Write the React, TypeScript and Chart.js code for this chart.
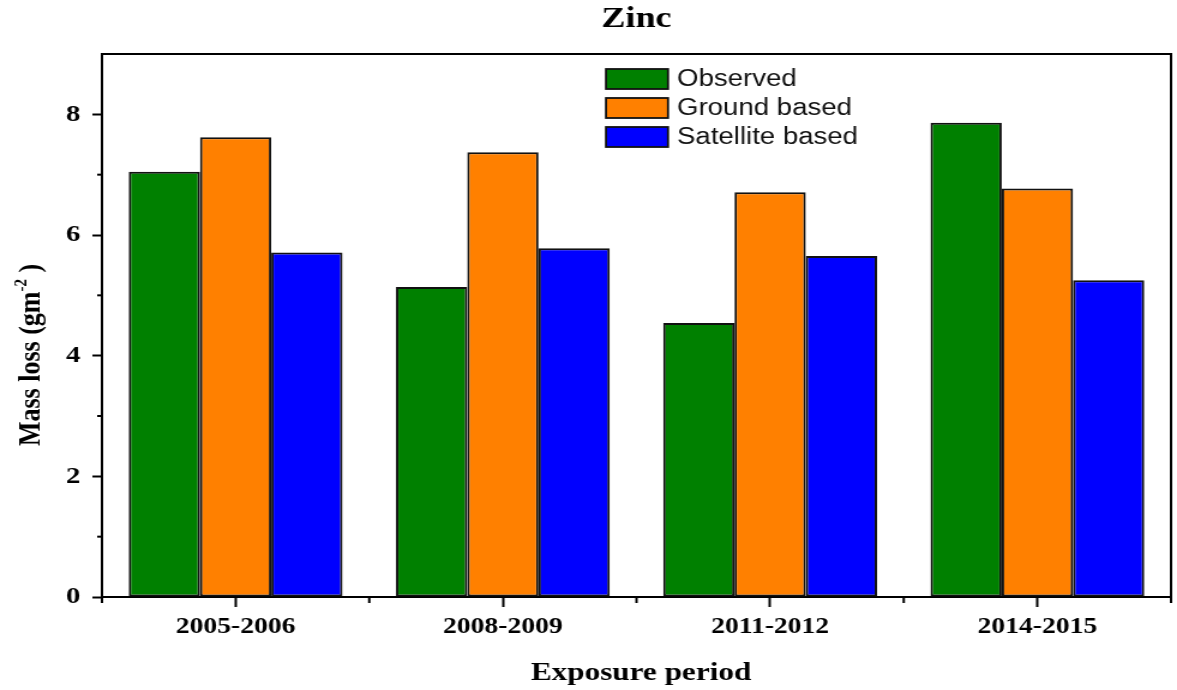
import React, { useEffect, useRef } from 'react';
import { Chart, registerables } from 'chart.js';

Chart.register(...registerables);

// ---- data ----
const CATEGORIES = ['2005-2006', '2008-2009', '2011-2012', '2014-2015'];
const OBSERVED = [7.05, 5.14, 4.54, 7.86];
const GROUND_BASED = [7.62, 7.37, 6.71, 6.77];
const SATELLITE_BASED = [5.71, 5.78, 5.65, 5.25];
const SERIES_NAMES = ['Observed', 'Ground based', 'Satellite based'];
const Y_MAJOR_TICKS = [0, 2, 4, 6, 8];
const Y_MINOR_TICKS = [1, 3, 5, 7];
const Y_MAX = 9;
const TITLE = 'Zinc';
const X_TITLE = 'Exposure period';

// ---- styles ----
const COLORS = ['#008000', '#FF8000', '#0000FF'];
const W = 1177;
const H = 690;
const CW = 981; // internal canvas width, stretched horizontally to W
const K = W / CW;
const ix = (refX: number) => refX / K;
const SERIF = '"Liberation Serif", "Times New Roman", serif';
const SANS = '"Liberation Sans", Arial, sans-serif';

const decoPlugin = {
  id: 'deco',
  afterDraw(chart: any) {
    const { ctx, chartArea, scales } = chart;
    const { left, right, top, bottom } = chartArea;
    const x = scales.x;
    const y = scales.y;
    ctx.save();
    ctx.strokeStyle = '#000';
    ctx.lineWidth = 2;
    // top and right frame
    ctx.beginPath();
    ctx.moveTo(left - 1, top);
    ctx.lineTo(right, top);
    ctx.lineTo(right, bottom);
    ctx.stroke();
    // minor y ticks
    for (const v of Y_MINOR_TICKS) {
      const py = y.getPixelForValue(v);
      ctx.beginPath();
      ctx.moveTo(left - 4, py);
      ctx.lineTo(left, py);
      ctx.stroke();
    }
    // minor x ticks at category boundaries
    for (let i = 0; i <= CATEGORIES.length; i++) {
      const p = x.getPixelForValue(i - 0.5);
      ctx.beginPath();
      ctx.moveTo(p, bottom);
      ctx.lineTo(p, bottom + 6);
      ctx.stroke();
    }
    // title
    ctx.fillStyle = '#000';
    ctx.textAlign = 'center';
    ctx.textBaseline = 'alphabetic';
    ctx.font = `bold 30px ${SERIF}`;
    ctx.fillText(TITLE, (left + right) / 2, 27);
    // x title
    ctx.font = `bold 26px ${SERIF}`;
    ctx.fillText(X_TITLE, ix(641), 680);
    // y title with superscript
    ctx.save();
    ctx.translate(ix(39), 355);
    ctx.rotate(-Math.PI / 2);
    const main = 'Mass loss (gm';
    const sup = '-2';
    const close = ' )';
    ctx.font = `bold 26px ${SERIF}`;
    const wMain = ctx.measureText(main).width;
    const wClose = ctx.measureText(close).width;
    ctx.font = `bold 15px ${SERIF}`;
    const wSup = ctx.measureText(sup).width;
    const total = wMain + wSup + wClose;
    let cx = -total / 2;
    ctx.textAlign = 'left';
    ctx.font = `bold 26px ${SERIF}`;
    ctx.fillText(main, cx, 0);
    cx += wMain;
    ctx.font = `bold 15px ${SERIF}`;
    ctx.fillText(sup, cx, -11);
    cx += wSup;
    ctx.font = `bold 26px ${SERIF}`;
    ctx.fillText(close, cx, 0);
    ctx.restore();
    // legend
    const boxX = ix(606);
    const boxW = ix(668) - ix(606);
    const boxTops = [69, 98, 127];
    ctx.font = `23px ${SANS}`;
    ctx.textAlign = 'left';
    ctx.textBaseline = 'middle';
    chart.data.datasets.forEach((ds: any, i: number) => {
      const ty = boxTops[i];
      ctx.fillStyle = ds.backgroundColor;
      ctx.fillRect(boxX, ty, boxW, 20);
      ctx.lineWidth = 1.8;
      ctx.strokeStyle = '#111';
      ctx.strokeRect(boxX, ty, boxW, 20);
      ctx.fillStyle = '#111';
      ctx.fillText(ds.label, ix(677), ty + 11);
    });
    ctx.restore();
  },
};

export default function App() {
  const ref = useRef<HTMLCanvasElement | null>(null);
  useEffect(() => {
    document.body.style.margin = '0';
    const canvas = ref.current!;
    const values = [OBSERVED, GROUND_BASED, SATELLITE_BASED];
    const chart = new Chart(canvas, {
      type: 'bar',
      data: {
        labels: CATEGORIES,
        datasets: values.map((d, i) => ({
          label: SERIES_NAMES[i],
          data: d,
          backgroundColor: COLORS[i],
          borderColor: '#111',
          borderWidth: 2,
          borderSkipped: false,
          categoryPercentage: 0.8,
          barPercentage: 1.0,
        })),
      },
      options: {
        responsive: false,
        animation: false,
        devicePixelRatio: 1,
        layout: { padding: { top: 54, right: CW - ix(1171), left: 0, bottom: 0 } },
        plugins: {
          legend: { display: false },
          title: { display: false },
          tooltip: { enabled: false },
        },
        scales: {
          x: {
            type: 'category',
            offset: true,
            grid: {
              display: true,
              offset: false,
              drawOnChartArea: false,
              drawTicks: true,
              tickLength: 10,
              tickWidth: 2,
              tickColor: '#000',
            },
            border: { display: true, color: '#000', width: 2 },
            ticks: {
              color: '#000',
              font: { family: SERIF, size: 23, weight: 'bold' },
              padding: 6,
              maxRotation: 0,
              autoSkip: false,
            },
            afterFit(scale: any) {
              scale.height = H - 597;
            },
          },
          y: {
            min: 0,
            max: Y_MAX,
            grid: {
              display: true,
              drawOnChartArea: false,
              drawTicks: true,
              tickLength: 8,
              tickWidth: 2,
              tickColor: '#000',
            },
            border: { display: true, color: '#000', width: 2 },
            ticks: {
              color: '#000',
              font: { family: SERIF, size: 24, weight: 'bold' },
              padding: 10,
            },
            afterBuildTicks(scale: any) {
              scale.ticks = Y_MAJOR_TICKS.map((v) => ({ value: v }));
            },
            afterFit(scale: any) {
              scale.width = ix(102);
            },
          },
        },
      },
      plugins: [decoPlugin],
    } as any);
    return () => chart.destroy();
  }, []);
  return (
    <div style={{ position: 'absolute', left: 0, top: 0, width: W, height: H, background: '#fff' }}>
      <canvas ref={ref} width={CW} height={H} style={{ width: W + 'px', height: H + 'px', display: 'block' }} />
    </div>
  );
}
